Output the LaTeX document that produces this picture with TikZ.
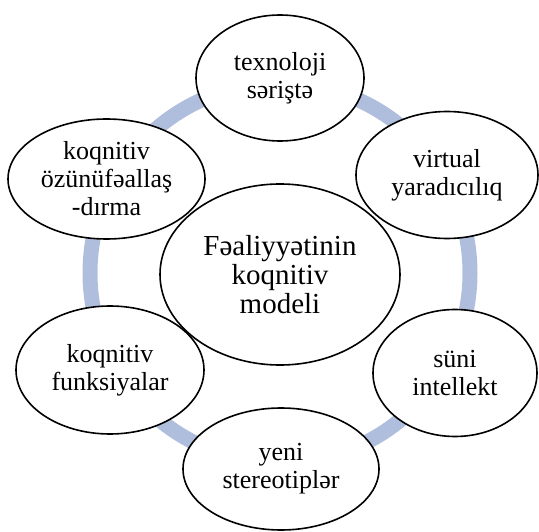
\documentclass[tikz,border=0pt]{standalone}
\usepackage{fontspec}
\setmainfont{Liberation Serif}
\usetikzlibrary{shapes.geometric}
\pgfdeclarelayer{background}
\pgfsetlayers{background,main}
\definecolor{ringcol}{RGB}{176,190,222}
\tikzset{
  bubble/.style={ellipse, draw=black, line width=1.6pt, inner sep=0pt, align=center,
    font=\fontsize{26}{28}\selectfont},
  hub/.style={bubble, font=\fontsize{29}{29}\selectfont},
  ringline/.style={draw=ringcol, line width=15pt}
}
\begin{document}
\begin{tikzpicture}[x=1pt,y=-1pt]
\useasboundingbox (0,0) rectangle (539,532);
\coordinate (o) at (280,273);
\node[hub, minimum width=240pt, minimum height=181pt] (c) at (280,274.5) {Fəaliyyətinin\\koqnitiv\\modeli};
\node[bubble, minimum width=168pt, minimum height=126pt] (tex) at (280,78) {texnoloji\\səriştə};
\node[bubble, minimum width=182pt, minimum height=127pt] (vir) at (447,175) {virtual\\yaradıcılıq};
\node[bubble, minimum width=197pt, minimum height=120pt] (koz) at (106.5,179) {koqnitiv\\özünüfəallaş\\-dırma};
\node[bubble, minimum width=188pt, minimum height=128pt] (fun) at (110,370) {koqnitiv\\funksiyalar};
\node[bubble, minimum width=164pt, minimum height=127pt] (sun) at (455,373) {süni\\intellekt};
\node[bubble, minimum width=196pt, minimum height=122pt] (yen) at (281,469) {yeni\\stereotiplər};
\begin{pgfonlayer}{background}
\draw[ringline] (o) circle[radius=190pt];
\fill[white] (c.center) ellipse[x radius=120pt, y radius=90.5pt];
\fill[white] (tex.center) ellipse[x radius=84pt, y radius=63pt];
\fill[white] (vir.center) ellipse[x radius=91pt, y radius=63.5pt];
\fill[white] (koz.center) ellipse[x radius=98.5pt, y radius=60pt];
\fill[white] (fun.center) ellipse[x radius=94pt, y radius=64pt];
\fill[white] (sun.center) ellipse[x radius=82pt, y radius=63.5pt];
\fill[white] (yen.center) ellipse[x radius=98pt, y radius=61pt];
\end{pgfonlayer}
\end{tikzpicture}
\end{document}
